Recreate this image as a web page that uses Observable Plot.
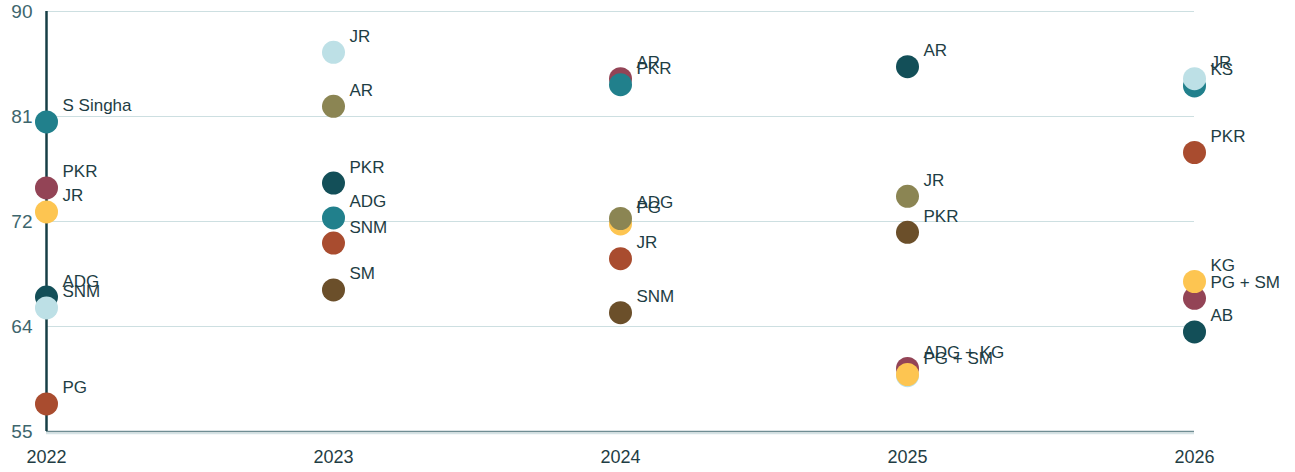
<!DOCTYPE html>
<html>
<head>
<meta charset="utf-8">
<script src="https://cdn.jsdelivr.net/npm/d3@7"></script>
<script src="https://cdn.jsdelivr.net/npm/@observablehq/plot@0.6"></script>
<style>
  html, body { margin: 0; padding: 0; background: #ffffff; }
  #chart svg { display: block; }
</style>
</head>
<body>
<div id="chart"></div>
<script>
// ---- data ----
const years  = [2022, 2022, 2022, 2022, 2022, 2022,
                2023, 2023, 2023, 2023, 2023, 2023,
                2024, 2024, 2024, 2024, 2024, 2024,
                2025, 2025, 2025, 2025, 2025, 2025,
                2026, 2026, 2026, 2026, 2026, 2026];
const names  = ["S Singha", "PKR", "JR", "ADG", "SNM", "PG",
                "JR", "AR", "PKR", "ADG", "SNM", "SM",
                "AR", "PKR", "PG", "ADG", "JR", "SNM",
                "AR", "JR", "PKR", "ADG + KG", "", "PG + SM",
                "KS", "JR", "PKR", "PG + SM", "KG", "AB"];
const values = [80.8, 75.3, 73.3, 66.2, 65.3, 57.3,
                86.6, 82.1, 75.7, 72.8, 70.7, 66.8,
                84.4, 83.9, 72.3, 72.75, 69.4, 64.9,
                85.4, 74.6, 71.6, 60.25, 59.65, 59.75,
                83.8, 84.4, 78.25, 66.1, 67.5, 63.3];
const series = ["teal", "maroon", "yellow", "dark", "light", "rust",
                "light", "olive", "dark", "teal", "rust", "brown",
                "maroon", "teal", "yellow", "olive", "rust", "brown",
                "dark", "olive", "brown", "maroon", "light", "yellow",
                "teal", "light", "rust", "maroon", "yellow", "dark"];
const yTicks      = [55, 63.75, 72.5, 81.25, 90];
const yTickLabels = ["55", "64", "72", "81", "90"];
const xTicks      = [2022, 2023, 2024, 2025, 2026];

const seriesDomain = ["teal", "maroon", "yellow", "dark", "light", "rust", "olive", "brown"];
const seriesColors = ["#21808c", "#934456", "#fdc551", "#134f58", "#bde0e6", "#a94c2f", "#8b8553", "#6b4f2a"];

const data = years.map((y, i) => ({year: y, name: names[i], value: values[i], series: series[i]}));

const chart = Plot.plot({
  width: 1295,
  height: 472,
  marginLeft: 46,
  marginRight: 101,
  marginTop: 11,
  marginBottom: 41,
  style: {fontFamily: "'Liberation Sans', Arial, sans-serif", background: "#ffffff", overflow: "visible"},
  x: {type: "linear", domain: [2022, 2026]},
  y: {domain: [55, 90]},
  color: {domain: seriesDomain, range: seriesColors},
  marks: [
    Plot.ruleY(yTicks.slice(1), {stroke: "#cddfe1", strokeWidth: 1.2}),
    Plot.ruleY([55], {stroke: "#d5e3e5", strokeWidth: 1.5, dy: 2}),
    Plot.ruleY([55], {stroke: "#6f8d93", strokeWidth: 1.5}),
    Plot.ruleX([2022], {stroke: "#173f46", strokeWidth: 2.5}),
    Plot.axisY({ticks: yTicks, tickFormat: (d) => yTickLabels[yTicks.indexOf(d)], tickSize: 0, tickPadding: 14,
                fontSize: 19, color: "#3d666d", label: null}),
    Plot.axisX({ticks: xTicks, tickFormat: d => String(d), tickSize: 0, tickPadding: 19,
                fontSize: 18, color: "#1f3d44", label: null}),
    Plot.dot(data, {x: "year", y: "value", r: 11.5, fill: "series", stroke: null}),
    Plot.text(data, {x: "year", y: "value", text: "name", dx: 16, dy: -16, textAnchor: "start",
                     fontSize: 17, fill: "#1e3d44"})
  ]
});
document.getElementById("chart").appendChild(chart);
</script>
</body>
</html>
